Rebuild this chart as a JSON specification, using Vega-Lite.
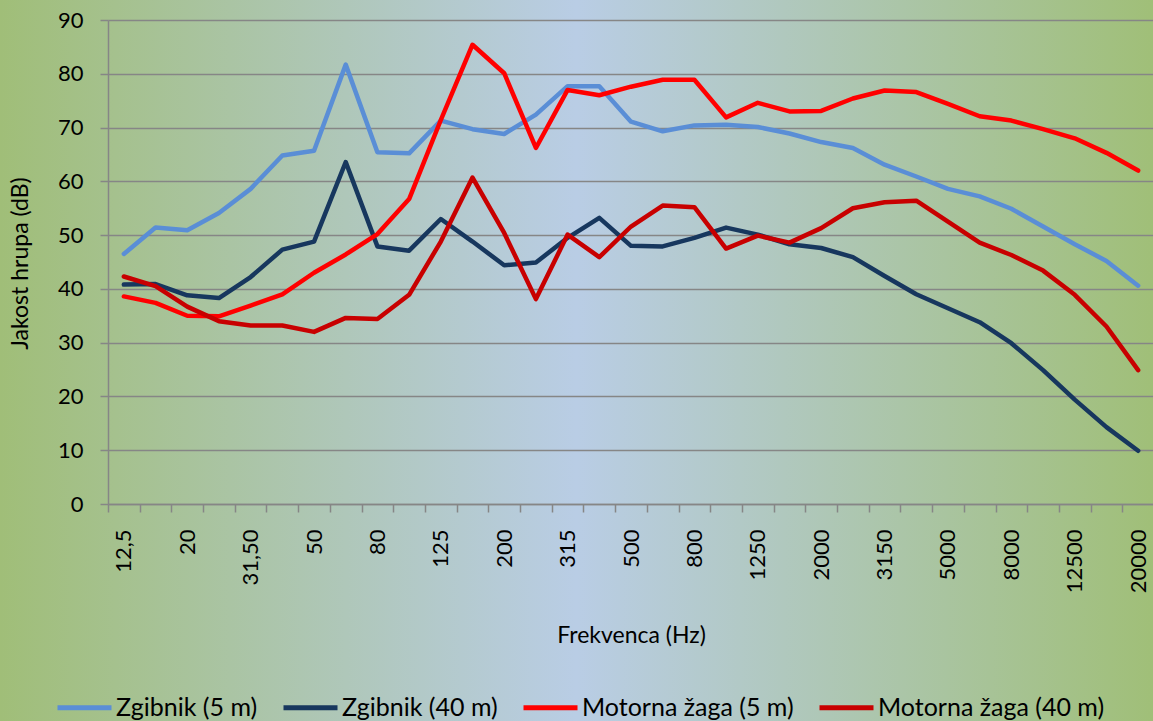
{
  "$schema": "https://vega.github.io/schema/vega-lite/v6.json",
  "width": 1153,
  "height": 721,
  "autosize": {"type": "none"},
  "padding": 0,
  "background": "#A9C38F",
  "config": {
    "view": {
      "stroke": null,
      "fill": {
        "gradient": "linear",
        "x1": 0, "y1": 0, "x2": 1, "y2": 0,
        "stops": [
          {"offset": 0, "color": "#A0BE78"},
          {"offset": 0.5, "color": "#B9CDE5"},
          {"offset": 1, "color": "#A0BF78"}
        ]
      }
    },
    "font": "Lato"
  },
  "data": {
    "values": [
      {"f": "12,5", "Zgibnik (5 m)": 46.5, "Zgibnik (40 m)": 40.8, "Motorna žaga (5 m)": 38.6, "Motorna žaga (40 m)": 42.3},
      {"f": "16", "Zgibnik (5 m)": 51.4, "Zgibnik (40 m)": 40.9, "Motorna žaga (5 m)": 37.4, "Motorna žaga (40 m)": 40.5},
      {"f": "20", "Zgibnik (5 m)": 50.9, "Zgibnik (40 m)": 38.8, "Motorna žaga (5 m)": 35.0, "Motorna žaga (40 m)": 36.7},
      {"f": "25", "Zgibnik (5 m)": 54.1, "Zgibnik (40 m)": 38.3, "Motorna žaga (5 m)": 34.9, "Motorna žaga (40 m)": 34.0},
      {"f": "31,50", "Zgibnik (5 m)": 58.6, "Zgibnik (40 m)": 42.2, "Motorna žaga (5 m)": 36.9, "Motorna žaga (40 m)": 33.2},
      {"f": "40", "Zgibnik (5 m)": 64.8, "Zgibnik (40 m)": 47.3, "Motorna žaga (5 m)": 39.0, "Motorna žaga (40 m)": 33.2},
      {"f": "50", "Zgibnik (5 m)": 65.7, "Zgibnik (40 m)": 48.8, "Motorna žaga (5 m)": 43.0, "Motorna žaga (40 m)": 32.0},
      {"f": "63", "Zgibnik (5 m)": 81.7, "Zgibnik (40 m)": 63.6, "Motorna žaga (5 m)": 46.4, "Motorna žaga (40 m)": 34.6},
      {"f": "80", "Zgibnik (5 m)": 65.4, "Zgibnik (40 m)": 47.9, "Motorna žaga (5 m)": 50.2, "Motorna žaga (40 m)": 34.4},
      {"f": "100", "Zgibnik (5 m)": 65.2, "Zgibnik (40 m)": 47.1, "Motorna žaga (5 m)": 56.7, "Motorna žaga (40 m)": 38.9},
      {"f": "125", "Zgibnik (5 m)": 71.3, "Zgibnik (40 m)": 53.0, "Motorna žaga (5 m)": 71.4, "Motorna žaga (40 m)": 48.8},
      {"f": "160", "Zgibnik (5 m)": 69.7, "Zgibnik (40 m)": 48.8, "Motorna žaga (5 m)": 85.4, "Motorna žaga (40 m)": 60.7},
      {"f": "200", "Zgibnik (5 m)": 68.8, "Zgibnik (40 m)": 44.4, "Motorna žaga (5 m)": 80.1, "Motorna žaga (40 m)": 50.4},
      {"f": "250", "Zgibnik (5 m)": 72.4, "Zgibnik (40 m)": 44.9, "Motorna žaga (5 m)": 66.2, "Motorna žaga (40 m)": 38.1},
      {"f": "315", "Zgibnik (5 m)": 77.7, "Zgibnik (40 m)": 49.5, "Motorna žaga (5 m)": 77.0, "Motorna žaga (40 m)": 50.1},
      {"f": "400", "Zgibnik (5 m)": 77.7, "Zgibnik (40 m)": 53.2, "Motorna žaga (5 m)": 76.0, "Motorna žaga (40 m)": 45.9},
      {"f": "500", "Zgibnik (5 m)": 71.1, "Zgibnik (40 m)": 48.0, "Motorna žaga (5 m)": 77.6, "Motorna žaga (40 m)": 51.6},
      {"f": "630", "Zgibnik (5 m)": 69.3, "Zgibnik (40 m)": 47.9, "Motorna žaga (5 m)": 78.9, "Motorna žaga (40 m)": 55.5},
      {"f": "800", "Zgibnik (5 m)": 70.4, "Zgibnik (40 m)": 49.5, "Motorna žaga (5 m)": 78.9, "Motorna žaga (40 m)": 55.2},
      {"f": "1000", "Zgibnik (5 m)": 70.5, "Zgibnik (40 m)": 51.4, "Motorna žaga (5 m)": 71.9, "Motorna žaga (40 m)": 47.5},
      {"f": "1250", "Zgibnik (5 m)": 70.1, "Zgibnik (40 m)": 50.1, "Motorna žaga (5 m)": 74.6, "Motorna žaga (40 m)": 49.9},
      {"f": "1600", "Zgibnik (5 m)": 68.9, "Zgibnik (40 m)": 48.3, "Motorna žaga (5 m)": 73.0, "Motorna žaga (40 m)": 48.6},
      {"f": "2000", "Zgibnik (5 m)": 67.3, "Zgibnik (40 m)": 47.6, "Motorna žaga (5 m)": 73.1, "Motorna žaga (40 m)": 51.3},
      {"f": "2500", "Zgibnik (5 m)": 66.2, "Zgibnik (40 m)": 45.9, "Motorna žaga (5 m)": 75.4, "Motorna žaga (40 m)": 55.0},
      {"f": "3150", "Zgibnik (5 m)": 63.1, "Zgibnik (40 m)": 42.4, "Motorna žaga (5 m)": 76.9, "Motorna žaga (40 m)": 56.1},
      {"f": "4000", "Zgibnik (5 m)": 60.9, "Zgibnik (40 m)": 39.0, "Motorna žaga (5 m)": 76.6, "Motorna žaga (40 m)": 56.4},
      {"f": "5000", "Zgibnik (5 m)": 58.6, "Zgibnik (40 m)": 36.4, "Motorna žaga (5 m)": 74.4, "Motorna žaga (40 m)": 52.5},
      {"f": "6300", "Zgibnik (5 m)": 57.2, "Zgibnik (40 m)": 33.8, "Motorna žaga (5 m)": 72.1, "Motorna žaga (40 m)": 48.6},
      {"f": "8000", "Zgibnik (5 m)": 54.9, "Zgibnik (40 m)": 29.9, "Motorna žaga (5 m)": 71.3, "Motorna žaga (40 m)": 46.3},
      {"f": "10000", "Zgibnik (5 m)": 51.6, "Zgibnik (40 m)": 24.9, "Motorna žaga (5 m)": 69.7, "Motorna žaga (40 m)": 43.4},
      {"f": "12500", "Zgibnik (5 m)": 48.3, "Zgibnik (40 m)": 19.4, "Motorna žaga (5 m)": 68.0, "Motorna žaga (40 m)": 38.9},
      {"f": "16000", "Zgibnik (5 m)": 45.2, "Zgibnik (40 m)": 14.3, "Motorna žaga (5 m)": 65.3, "Motorna žaga (40 m)": 33.0},
      {"f": "20000", "Zgibnik (5 m)": 40.6, "Zgibnik (40 m)": 9.9, "Motorna žaga (5 m)": 62.0, "Motorna žaga (40 m)": 24.9}
    ]
  },
  "transform": [
    {"fold": ["Zgibnik (5 m)", "Zgibnik (40 m)", "Motorna žaga (5 m)", "Motorna žaga (40 m)"], "as": ["series", "value"]}
  ],
  "mark": {"type": "line", "strokeWidth": 4.5, "strokeCap": "round", "strokeJoin": "round"},
  "encoding": {
    "x": {
      "field": "f",
      "type": "ordinal",
      "sort": null,
      "scale": {
        "type": "band",
        "domain": ["12,5","16","20","25","31,50","40","50","63","80","100","125","160","200","250","315","400","500","630","800","1000","1250","1600","2000","2500","3150","4000","5000","6300","8000","10000","12500","16000","20000"],
        "range": [108, 1154],
        "paddingInner": 0,
        "paddingOuter": 0
      },
      "axis": {
        "orient": "bottom",
        "offset": -217,
        "title": "Frekvenca (Hz)",
        "titleFont": "Lato",
        "titleFontSize": 23,
        "titleFontWeight": "normal",
        "titleColor": "#000000",
        "titleBaseline": "alphabetic",
        "titleY": 138,
        "tickBand": "extent",
        "ticks": true,
        "tickSize": 8,
        "tickColor": "#868686",
        "tickWidth": 1.5,
        "domainColor": "#868686",
        "domainWidth": 1.5,
        "grid": false,
        "labelAngle": -90,
        "labelAlign": "right",
        "labelBaseline": "middle",
        "labelPadding": 17,
        "labelFont": "Lato",
        "labelFontSize": 22,
        "labelColor": "#000000",
        "labelOverlap": false,
        "labelBound": false,
        "labelExpr": "indexof(['16','25','40','63','100','160','250','400','630','1000','1600','2500','4000','6300','10000','16000'], datum.value) < 0 ? datum.label : ''"
      }
    },
    "y": {
      "field": "value",
      "type": "quantitative",
      "scale": {"domain": [0, 90], "range": [504, 20], "nice": false, "zero": false},
      "axis": {
        "orient": "left",
        "offset": -108,
        "values": [0, 10, 20, 30, 40, 50, 60, 70, 80, 90],
        "grid": true,
        "gridColor": "#868686",
        "gridWidth": 1.5,
        "gridOpacity": 1,
        "domain": true,
        "domainColor": "#868686",
        "domainWidth": 1.5,
        "ticks": true,
        "tickSize": 8,
        "tickColor": "#868686",
        "tickWidth": 1.5,
        "labelPadding": 17,
        "labelFont": "Lato",
        "labelFontSize": 22,
        "labelColor": "#000000",
        "labelBaseline": "middle",
        "title": "Jakost hrupa (dB)",
        "titleFont": "Lato",
        "titleFontSize": 23,
        "titleFontWeight": "normal",
        "titleColor": "#000000",
        "titleAngle": 270,
        "titleAlign": "center",
        "titleBaseline": "alphabetic",
        "titleX": -81,
        "titleY": 263
      }
    },
    "color": {
      "field": "series",
      "type": "nominal",
      "scale": {
        "domain": ["Zgibnik (5 m)", "Zgibnik (40 m)", "Motorna žaga (5 m)", "Motorna žaga (40 m)"],
        "range": ["#5A8ED6", "#17375E", "#FF0000", "#C80000"]
      },
      "legend": {
        "orient": "none",
        "legendX": 55,
        "legendY": 678,
        "direction": "horizontal",
        "title": null,
        "padding": 0,
        "symbolType": "stroke",
        "symbolSize": 2916,
        "symbolStrokeWidth": 5,
        "labelOffset": 2,
        "columnPadding": 15,
        "labelFont": "Lato",
        "labelFontSize": 25,
        "labelColor": "#000000",
        "labelLimit": 400
      }
    },
    "order": {"value": null}
  }
}
